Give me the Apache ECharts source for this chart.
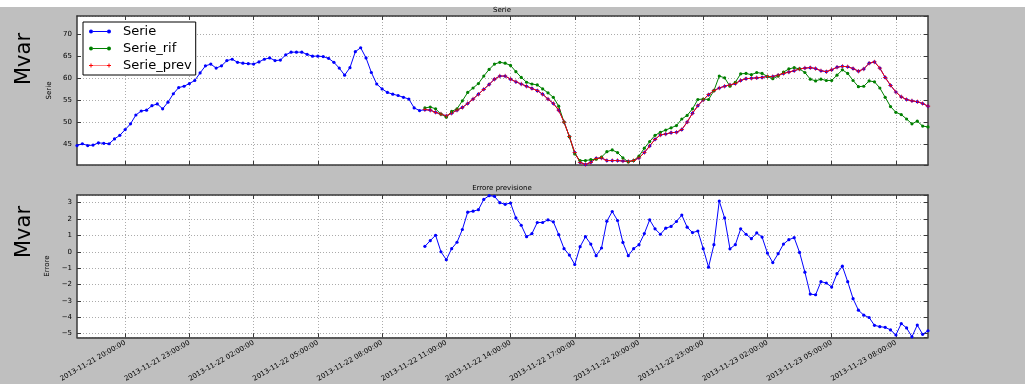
<!DOCTYPE html>
<html>
<head>
<meta charset="utf-8">
<script src="https://cdn.jsdelivr.net/npm/echarts@6/dist/echarts.min.js"></script>
<style>
  html, body { margin: 0; padding: 0; background: #bfbfbf; }
  #chart { width: 1025px; height: 384px; }
</style>
</head>
<body>
<div id="chart"></div>
<script>
// Quarter-hour samples, 2013-11-21 17:45 .. 2013-11-23 09:30
const startTime = Date.UTC(2013, 10, 21, 17, 45);
const stepMinutes = 15;
const sampleCount = 160;

// Labelled ticks on the time axis (every 3 hours)
const tickLabels = [
  '2013-11-21 20:00:00', '2013-11-21 23:00:00', '2013-11-22 02:00:00',
  '2013-11-22 05:00:00', '2013-11-22 08:00:00', '2013-11-22 11:00:00',
  '2013-11-22 14:00:00', '2013-11-22 17:00:00', '2013-11-22 20:00:00',
  '2013-11-22 23:00:00', '2013-11-23 02:00:00', '2013-11-23 05:00:00',
  '2013-11-23 08:00:00'
];

// Measured series before the forecast window (17:45 .. 09:45)
const serieHist = [
  44.8, 45.2, 44.8, 44.9, 45.4, 45.3, 45.2, 46.3, 47.1, 48.4,
  49.7, 51.7, 52.6, 52.8, 53.8, 54.2, 53.1, 54.6, 56.5, 57.9,
  58.2, 58.8, 59.5, 61.2, 62.8, 63.2, 62.3, 62.8, 64.0, 64.3,
  63.6, 63.4, 63.3, 63.2, 63.7, 64.3, 64.6, 64.0, 64.1, 65.3,
  65.9, 65.9, 65.9, 65.4, 65.0, 65.0, 64.9, 64.5, 63.6, 62.3,
  60.7, 62.4, 66.0, 66.9, 64.6, 61.3, 58.7, 57.6, 56.8, 56.4,
  56.1, 55.7, 55.3, 53.3, 52.7
];

// Reference series over the forecast window (from 2013-11-22 10:00)
const serieRif = [
  53.3, 53.5, 53.1, 51.9, 51.2, 52.5, 53.1, 54.9, 56.8, 57.8,
  58.8, 60.5, 62.0, 63.2, 63.6, 63.4, 62.9, 61.5, 60.2, 59.1,
  58.7, 58.5, 57.6, 56.7, 55.7, 53.7, 50.1, 46.8, 42.9, 41.4,
  41.4, 41.6, 41.7, 42.2, 43.4, 43.8, 43.2, 42.0, 41.1, 41.4,
  42.4, 44.2, 45.7, 47.1, 47.8, 48.3, 48.8, 49.3, 50.8, 51.6,
  53.1, 55.2, 55.3, 55.2, 57.2, 60.5, 60.1, 58.2, 59.1, 61.0,
  61.1, 60.8, 61.3, 61.1, 60.4, 59.9, 60.5, 61.4, 62.1, 62.4,
  62.1, 61.3, 59.8, 59.4, 59.8, 59.5, 59.5, 60.7, 61.9, 61.1,
  59.5, 58.1, 58.2, 59.4, 59.2, 57.8, 55.7, 53.6, 52.3, 51.8,
  50.8, 49.7, 50.3, 49.2, 49.0
];

// Forecast over the same window
const seriePrev = [
  52.9, 52.8, 52.3, 51.9, 51.5, 52.1, 52.8, 53.4, 54.3, 55.3,
  56.4, 57.5, 58.6, 59.8, 60.5, 60.5, 59.8, 59.2, 58.7, 58.2,
  57.7, 57.2, 56.4, 55.3, 54.3, 52.8, 50.1, 46.8, 43.2, 41.0,
  40.5, 41.0, 41.9, 42.0, 41.4, 41.4, 41.4, 41.3, 41.2, 41.4,
  42.0, 43.2, 44.7, 46.2, 47.2, 47.4, 47.7, 47.8, 48.4, 50.1,
  52.1, 53.8, 55.1, 56.3, 57.2, 57.8, 58.2, 58.5, 58.8, 59.5,
  59.9, 60.0, 60.1, 60.2, 60.4, 60.4, 60.7, 61.1, 61.4, 61.7,
  62.1, 62.3, 62.4, 62.2, 61.7, 61.5, 61.9, 62.5, 62.7, 62.6,
  62.2, 61.6, 62.1, 63.4, 63.7, 62.3, 60.2, 58.4, 56.9, 55.8,
  55.2, 54.9, 54.7, 54.3, 53.7
];

// Forecast error over the same window
const errore = [
   0.33,  0.68,  1.01,  0.00, -0.49,  0.19,  0.58,  1.36,  2.42,  2.48,
   2.57,  3.20,  3.43,  3.39,  3.00,  2.90,  2.98,  2.07,  1.62,  0.92,
   1.11,  1.79,  1.79,  1.95,  1.83,  1.05,  0.19, -0.20, -0.78,  0.31,
   0.92,  0.47, -0.24,  0.23,  1.87,  2.46,  1.91,  0.57, -0.24,  0.19,
   0.43,  1.11,  1.95,  1.40,  1.07,  1.44,  1.55,  1.85,  2.24,  1.50,
   1.17,  1.27,  0.19, -0.94,  0.43,  3.10,  2.07,  0.18,  0.43,  1.40,
   1.07,  0.80,  1.15,  0.90, -0.08, -0.66, -0.12,  0.47,  0.74,  0.86,
  -0.04, -1.25, -2.59, -2.63, -1.83, -1.91, -2.16, -1.34, -0.88, -1.83,
  -2.87, -3.57, -3.88, -4.02, -4.50, -4.58, -4.62, -4.78, -5.09, -4.39,
  -4.66, -5.20, -4.48, -5.05, -4.83
];

// ---- derived tables ----
function pad(n) { return String(n).padStart(2, '0'); }
const timeCategories = [];
for (let i = 0; i < sampleCount; i++) {
  const d = new Date(startTime + i * stepMinutes * 60000);
  timeCategories.push(
    d.getUTCFullYear() + '-' + pad(d.getUTCMonth() + 1) + '-' + pad(d.getUTCDate()) +
    ' ' + pad(d.getUTCHours()) + ':' + pad(d.getUTCMinutes()) + ':00'
  );
}
const windowStart = serieHist.length;
const lead = new Array(windowStart).fill(null);
const serieAll = serieHist.concat(seriePrev);
const rifAll = lead.concat(serieRif);
const prevAll = lead.concat(seriePrev);
const erroreAll = lead.concat(errore);

const FONT = '"DejaVu Sans", "Liberation Sans", sans-serif';
const FRAME = '#3a3a3a';
const GRID_LINE = { color: '#ababab', width: 1, type: [1, 2] };
const isTick = (idx, val) => tickLabels.indexOf(val) !== -1;
const minus = v => (v < 0 ? '\u2212' + Math.abs(v) : String(v));

const gridBox = [
  { left: 77, width: 851, top: 16, height: 149 },
  { left: 77, width: 851, top: 195, height: 149 }
];

function timeAxis(gridIndex, position, withLabels) {
  return {
    type: 'category',
    gridIndex: gridIndex,
    position: position,
    data: timeCategories,
    boundaryGap: false,
    axisLine: { show: true, onZero: false, lineStyle: { color: FRAME, width: 1.5 } },
    axisTick: { show: true, inside: true, length: 4, interval: isTick, lineStyle: { color: FRAME, width: 1 } },
    splitLine: { show: position === 'bottom', interval: isTick, lineStyle: GRID_LINE },
    axisLabel: {
      show: withLabels, interval: isTick, rotate: 30, margin: 5,
      fontSize: 7, fontFamily: FONT, color: '#000'
    }
  };
}

function valueAxis(gridIndex, position, min, max, step, name, nameGap) {
  const left = position === 'left';
  return {
    type: 'value',
    gridIndex: gridIndex,
    position: position,
    min: min, max: max,
    minInterval: step, maxInterval: step,
    name: left ? name : '',
    nameLocation: 'middle',
    nameRotate: 90,
    nameGap: nameGap,
    nameTextStyle: { fontSize: 7, fontFamily: FONT, color: '#000' },
    axisLine: { show: true, lineStyle: { color: FRAME, width: 1.5 } },
    axisTick: { show: true, inside: true, length: 4, lineStyle: { color: FRAME, width: 1 } },
    splitLine: { show: left, lineStyle: GRID_LINE },
    axisLabel: {
      show: left, showMinLabel: false, showMaxLabel: false, margin: 5,
      fontSize: 7, fontFamily: FONT, color: '#000',
      formatter: v => (Math.abs(v / step - Math.round(v / step)) < 1e-6 ? minus(Math.round(v)) : '')
    }
  };
}

const dotLegend = 'path://M0,4A4,4 0 1,0 8,4A4,4 0 1,0 0,4ZM8,3H36V5H8ZM36,4A4,4 0 1,0 44,4A4,4 0 1,0 36,4Z';
const plusLegend = 'path://M0,3H8V5H0ZM3,0H5V8H3ZM8,3.4H36V4.6H8ZM36,3H44V5H36ZM39,0H41V8H39Z';
const plusSymbol = 'path://M0,4.3H10V5.7H0ZM4.3,0H5.7V10H4.3Z';

const chart = echarts.init(document.getElementById('chart'), null, { renderer: 'canvas' });
chart.setOption({
  animation: false,
  backgroundColor: '#bfbfbf',
  textStyle: { fontFamily: FONT },
  grid: gridBox.map(g => Object.assign({ show: true, backgroundColor: '#ffffff', borderWidth: 0 }, g)),
  xAxis: [
    timeAxis(0, 'bottom', false),
    timeAxis(1, 'bottom', true),
    timeAxis(0, 'top', false),
    timeAxis(1, 'top', false)
  ],
  yAxis: [
    valueAxis(0, 'left', 40.4, 74.07, 5, 'Serie', 16),
    valueAxis(1, 'left', -5.23, 3.47, 1, 'Errore', 18),
    valueAxis(0, 'right', 40.4, 74.07, 5, '', 0),
    valueAxis(1, 'right', -5.23, 3.47, 1, '', 0)
  ],
  legend: {
    left: 83, top: 22,
    orient: 'vertical',
    backgroundColor: '#ffffff',
    borderColor: '#000000', borderWidth: 1, borderRadius: 0,
    padding: [3, 4, 3, 6],
    itemWidth: 22, itemHeight: 4, itemGap: 4,
    itemStyle: { borderWidth: 0 },
    textStyle: { fontSize: 13, fontFamily: FONT, color: '#000', lineHeight: 13, padding: [0, 0, 0, 7] },
    selectedMode: false,
    data: [
      { name: 'Serie', icon: dotLegend },
      { name: 'Serie_rif', icon: dotLegend },
      { name: 'Serie_prev', icon: plusLegend }
    ]
  },
  graphic: [
    { type: 'rect', z: -10, shape: { x: 0, y: 0, width: 1025, height: 7 }, style: { fill: '#ffffff' } },
    { type: 'text', x: 502, y: 10, style: { text: 'Serie', align: 'center', verticalAlign: 'middle', font: '7px ' + FONT, fill: '#000' } },
    { type: 'text', x: 502, y: 188, style: { text: 'Errore previsione', align: 'center', verticalAlign: 'middle', font: '7px ' + FONT, fill: '#000' } },
    { type: 'text', x: 25, y: 59, rotation: Math.PI / 2, style: { text: 'Mvar', align: 'center', verticalAlign: 'middle', font: '21px ' + FONT, fill: '#000' } },
    { type: 'text', x: 25, y: 232, rotation: Math.PI / 2, style: { text: 'Mvar', align: 'center', verticalAlign: 'middle', font: '21px ' + FONT, fill: '#000' } }
  ],
  series: [
    {
      name: 'Serie', type: 'line', xAxisIndex: 0, yAxisIndex: 0, data: serieAll,
      color: '#0000ff', symbol: 'circle', symbolSize: 3.2, showAllSymbol: true,
      lineStyle: { width: 1 }, itemStyle: { borderWidth: 0 }
    },
    {
      name: 'Serie_rif', type: 'line', xAxisIndex: 0, yAxisIndex: 0, data: rifAll,
      color: '#008000', symbol: 'circle', symbolSize: 3.2, showAllSymbol: true,
      lineStyle: { width: 1 }, itemStyle: { borderWidth: 0 }
    },
    {
      name: 'Serie_prev', type: 'line', xAxisIndex: 0, yAxisIndex: 0, data: prevAll,
      color: '#ff0000', symbol: plusSymbol, symbolSize: 4.5, showAllSymbol: true,
      lineStyle: { width: 1 }, itemStyle: { borderWidth: 0 }
    },
    {
      name: 'Errore', type: 'line', xAxisIndex: 1, yAxisIndex: 1, data: erroreAll,
      color: '#0000ff', symbol: 'circle', symbolSize: 3.2, showAllSymbol: true,
      lineStyle: { width: 1 }, itemStyle: { borderWidth: 0 }
    }
  ]
});
</script>
</body>
</html>
